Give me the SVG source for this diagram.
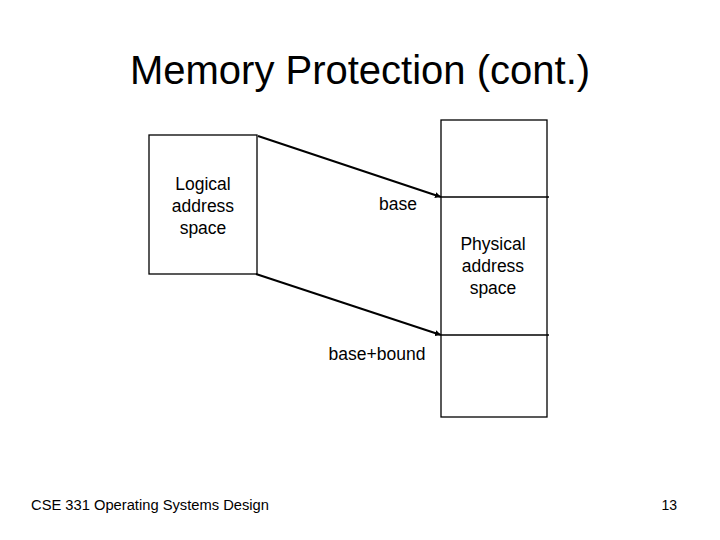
<svg xmlns="http://www.w3.org/2000/svg" width="720" height="540" viewBox="0 0 720 540">
<style>
text{font-family:"Liberation Sans",Arial,sans-serif;fill:#000}
.box{fill:#fff;stroke:#000;stroke-width:1.3}
.lbl{font-size:17.5px;text-anchor:middle}
.conn{stroke:#000;stroke-width:2;fill:none}
</style>
<defs>
<marker id="ah" viewBox="0 0 10 10" refX="10" refY="5" markerWidth="6" markerHeight="6" orient="auto" markerUnits="userSpaceOnUse">
<path d="M0,0 L10,5 L0,10 z" fill="#000"/>
</marker>
</defs>
<rect width="720" height="540" fill="#fff"/>
<text x="360" y="84" font-size="40" text-anchor="middle">Memory Protection (cont.)</text>
<g id="logical">
<rect class="box" x="149" y="135" width="108" height="139"/>
<text class="lbl" x="203" y="190">Logical</text>
<text class="lbl" x="203" y="212">address</text>
<text class="lbl" x="203" y="234">space</text>
</g>
<g id="physical">
<rect class="box" x="441" y="120" width="106" height="297"/>
<line x1="441" y1="197" x2="549" y2="197" stroke="#000" stroke-width="1.3"/>
<line x1="441" y1="335" x2="549" y2="335" stroke="#000" stroke-width="1.3"/>
<text class="lbl" x="493" y="250">Physical</text>
<text class="lbl" x="493" y="272">address</text>
<text class="lbl" x="493" y="294">space</text>
</g>
<g id="base-label"><text class="lbl" x="398" y="210">base</text></g>
<g id="bound-label"><text class="lbl" x="377" y="360">base+bound</text></g>
<g id="connectors">
<line class="conn" x1="258" y1="136" x2="441" y2="197" marker-end="url(#ah)"/>
<line class="conn" x1="256" y1="274" x2="441" y2="335" marker-end="url(#ah)"/>
</g>
<text x="31" y="510" font-size="14" textLength="238" lengthAdjust="spacingAndGlyphs">CSE 331 Operating Systems Design</text>
<text x="677" y="510" font-size="14" text-anchor="end">13</text>
</svg>
